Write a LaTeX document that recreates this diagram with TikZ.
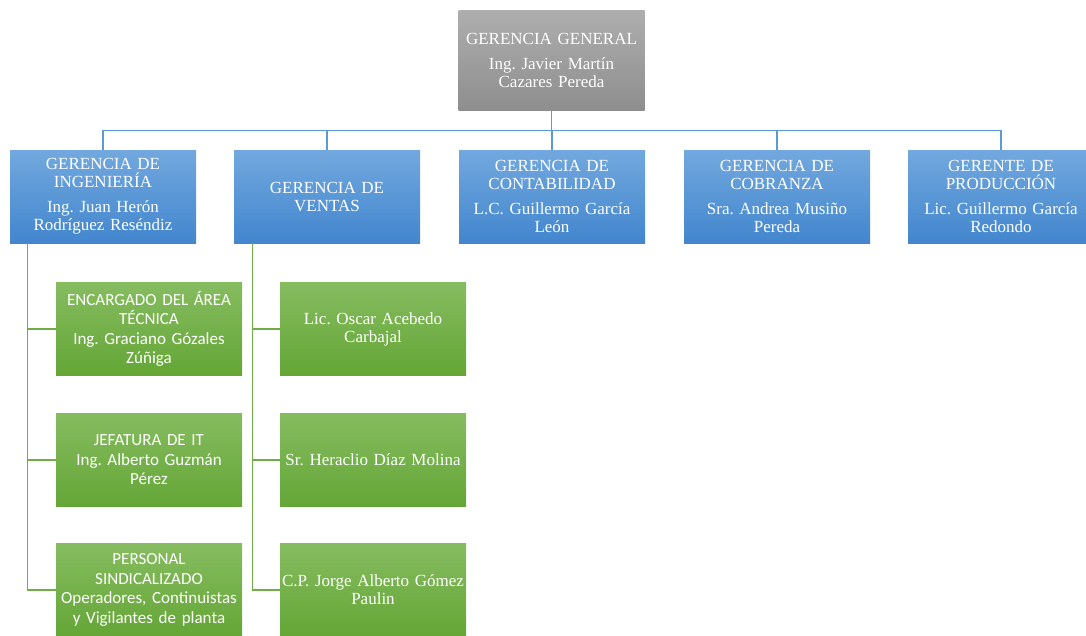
\documentclass[tikz,border=0pt]{standalone}
\usepackage{fontspec}
\setmainfont{Liberation Serif}
\newfontfamily\calib{Carlito}
\frenchspacing
\definecolor{bluetop}{RGB}{114,168,222}
\definecolor{bluebot}{RGB}{66,134,206}
\definecolor{greentop}{RGB}{134,188,96}
\definecolor{greenbot}{RGB}{100,166,54}
\definecolor{graytop}{RGB}{174,174,174}
\definecolor{graybot}{RGB}{142,142,142}
\definecolor{blueline}{RGB}{91,155,213}
\definecolor{greenline}{RGB}{112,173,71}
\tikzset{
  base/.style={rectangle, minimum width=186pt, minimum height=93pt, text width=182pt,
    align=center, inner sep=2pt, text=white, font=\frenchspacing\fontsize{17}{18}\selectfont},
  graybox/.style={base, minimum height=100pt, top color=graytop, bottom color=graybot},
  bluebox/.style={base, top color=bluetop, bottom color=bluebot},
  greenbox/.style={base, top color=greentop, bottom color=greenbot},
  sansbox/.style={greenbox, font=\calib\fontsize{17}{19.5}\selectfont},
  bconn/.style={draw=blueline, line width=1.2pt},
  gconn/.style={draw=greenline, line width=1.2pt}
}
\begin{document}
\begin{tikzpicture}[x=1pt,y=-1pt]
\useasboundingbox (0,0) rectangle (1086,635);
\clip (0,0) rectangle (1086,635);
\node[graybox] (gg) at (551.5,60) {GERENCIA GENERAL\\[7pt]Ing. Javier Martín\\Cazares Pereda};
\node[bluebox] (ing) at (103,196.5) {GERENCIA DE\\INGENIERÍA\\[7pt]Ing. Juan Herón\\Rodríguez Reséndiz};
\node[bluebox] (ven) at (327,196.5) {GERENCIA DE\\VENTAS};
\node[bluebox] (con) at (552,196.5) {GERENCIA DE\\CONTABILIDAD\\[7pt]L.C. Guillermo García\\León};
\node[bluebox] (cob) at (777,196.5) {GERENCIA DE\\COBRANZA\\[7pt]Sra. Andrea Musiño\\Pereda};
\node[bluebox] (pro) at (1001,196.5) {GERENTE DE\\PRODUCCIÓN\\[7pt]Lic. Guillermo García\\Redondo};
\node[sansbox] (e1) at (149,329) {ENCARGADO DEL ÁREA\\TÉCNICA\\Ing. Graciano Gózales\\Zúñiga};
\node[sansbox] (e2) at (149,460) {JEFATURA DE IT\\Ing. Alberto Guzmán\\Pérez};
\node[sansbox] (e3) at (149,590) {PERSONAL\\SINDICALIZADO\\Operadores, Continuistas\\y Vigilantes de planta};
\node[greenbox] (v1) at (373,329) {Lic. Oscar Acebedo\\Carbajal};
\node[greenbox] (v2) at (373,460) {Sr. Heraclio Díaz Molina};
\node[greenbox] (v3) at (373,590) {C.P. Jorge Alberto Gómez\\Paulin};
\foreach \c in {ing,ven,con,cob,pro}
  \draw[bconn] (gg.south) -- ++(0,20) -| (\c.north);
\foreach \c in {e1,e2,e3}
  \draw[gconn] ([xshift=18pt]ing.south west) |- (\c.west);
\foreach \c in {v1,v2,v3}
  \draw[gconn] ([xshift=19pt]ven.south west) |- (\c.west);
\end{tikzpicture}
\end{document}
